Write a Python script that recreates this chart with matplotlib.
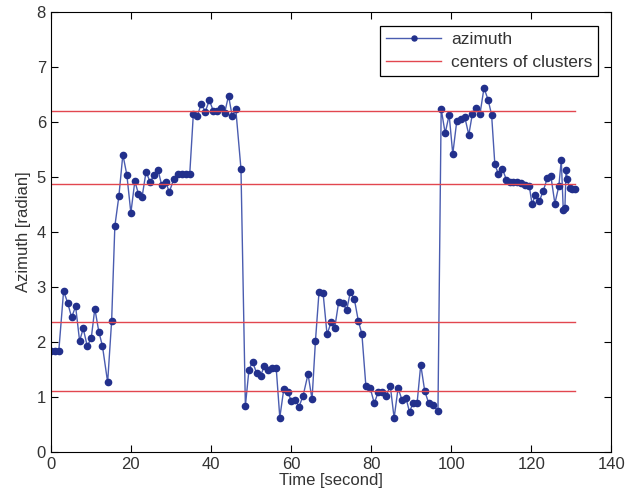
import matplotlib
matplotlib.use("Agg")
import matplotlib.pyplot as plt

plt.rcParams['font.family'] = ['Liberation Sans', 'DejaVu Sans']

# azimuth samples
time_s = [0, 1, 2, 3.2, 4.2, 5.2, 6.2, 7.2, 8.1, 9.1, 10.1, 11, 12, 12.9, 14.2, 15.2,
          16, 17, 18, 19, 20, 21, 21.9, 22.8, 23.8, 24.8, 25.8, 26.8, 27.7, 28.7, 29.6,
          30.7, 31.7, 32.7, 33.7, 34.7, 35.6, 36.6, 37.6, 38.6, 39.6, 40.6, 41.5, 42.4,
          43.4, 44.4, 45.3, 46.2, 47.5, 48.6, 49.5, 50.4, 51.4, 52.4, 53.3, 54.3, 55.3,
          56.3, 57.2, 58.2, 59.2, 60.1, 61.1, 62, 63, 64.25, 65.25, 66.1, 67, 68, 69, 70,
          70.9, 71.9, 72.9, 73.9, 74.8, 75.8, 76.8, 77.7, 78.7, 79.8, 80.8, 81.8, 82.75,
          83.75, 84.8, 85.75, 86.75, 87.7, 88.7, 89.6, 90.5, 91.5, 92.4, 93.4, 94.4, 95.4,
          96.7, 97.5, 98.5, 99.5, 100.4, 101.4, 102.4, 103.4, 104.4, 105.3, 106.3, 107.2,
          108.2, 109.25, 110.1, 110.9, 111.8, 112.8, 113.8, 114.6, 115.5, 116.5, 117.5,
          118.5, 119.5, 120.2, 121, 122, 123, 124, 124.9, 125.9, 126.9, 127.5, 128, 128.4,
          128.7, 129.0, 129.6, 130.2, 131]
azimuth = [1.84, 1.84, 1.84, 2.93, 2.72, 2.45, 2.65, 2.02, 2.25, 1.93, 2.07, 2.61, 2.19, 1.93, 1.27, 2.39,
           4.11, 4.65, 5.41, 5.04, 4.35, 4.93, 4.69, 4.64, 5.1, 4.91, 5.04, 5.13, 4.85, 4.91, 4.73,
           4.96, 5.05, 5.05, 5.05, 5.05, 6.14, 6.12, 6.33, 6.19, 6.4, 6.2, 6.2, 6.26,
           6.16, 6.48, 6.11, 6.24, 5.15, 0.84, 1.5, 1.64, 1.44, 1.39, 1.56, 1.49, 1.53,
           1.53, 0.63, 1.15, 1.09, 0.93, 0.95, 0.83, 1.02, 1.42, 0.96, 2.02, 2.92, 2.9, 2.14, 2.36,
           2.25, 2.73, 2.71, 2.58, 2.91, 2.79, 2.39, 2.15, 1.2, 1.16, 0.89, 1.1, 1.09,
           1.03, 1.2, 0.62, 1.17, 0.95, 0.99, 0.73, 0.9, 0.9, 1.59, 1.11, 0.89, 0.86,
           0.75, 6.24, 5.8, 6.13, 5.42, 6.02, 6.06, 6.09, 5.77, 6.15, 6.26, 6.15,
           6.62, 6.4, 6.13, 5.24, 5.05, 5.15, 4.95, 4.91, 4.92, 4.91, 4.9,
           4.86, 4.84, 4.51, 4.67, 4.56, 4.75, 4.98, 5.02, 4.52, 4.84, 5.31, 4.4, 4.43,
           5.13, 4.96, 4.8, 4.78, 4.78]

# cluster centres
centers = [6.2, 4.87, 2.37, 1.12]
center_span = [0, 131]

fig = plt.figure(figsize=(6.27, 5.03), dpi=100)
ax = fig.add_axes([0.081, 0.101, 0.894, 0.875])

ax.plot(time_s, azimuth, '-', color='#4a5cb0', lw=1.0, marker='o', ms=4.5,
        mfc='#22308c', mec='#22308c', label='azimuth')
for i, c in enumerate(centers):
    ax.plot(center_span, [c, c], color='#e2474f', lw=1.0,
            label='centers of clusters' if i == 0 else None)

ax.set_xlim(0, 140)
ax.set_ylim(0, 8)
ax.set_xticks(range(0, 141, 20))
ax.set_yticks(range(0, 9))
ax.tick_params(direction='in', top=True, right=True, labelsize=12, length=5,
               labelcolor='#333333')
ax.set_xlabel('Time [second]', fontsize=12, labelpad=1, color='#333333')
ax.set_ylabel('Azimuth [radian]', fontsize=12, labelpad=4, color='#333333')

leg = ax.legend(loc='upper right', bbox_to_anchor=(0.977, 0.968), borderaxespad=0,
                fontsize=12.5, fancybox=False, edgecolor='black', framealpha=1,
                markerscale=0.8, handlelength=3.2, handletextpad=0.55,
                borderpad=0.35, labelspacing=0.45)
leg.get_frame().set_linewidth(0.9)
for t in leg.get_texts():
    t.set_color('#333333')

fig.savefig('out.png', dpi=100)
